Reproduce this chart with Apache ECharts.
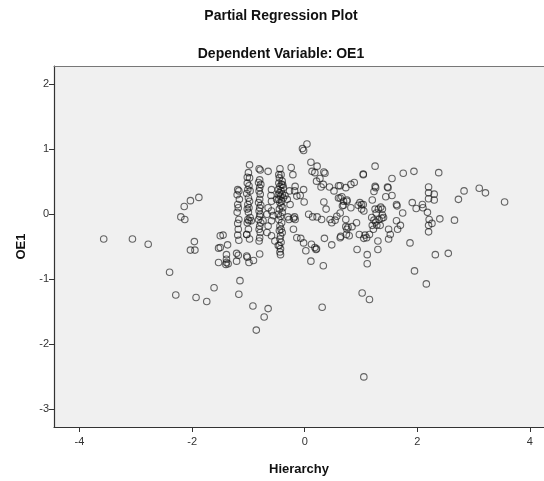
<!DOCTYPE html>
<html>
<head>
<meta charset="utf-8">
<script src="https://cdn.jsdelivr.net/npm/echarts@6/dist/echarts.min.js"></script>
<style>
  html, body { margin: 0; padding: 0; background: #ffffff; }
  #chart { width: 544px; height: 481px; }
</style>
</head>
<body>
<div id="chart"></div>
<script>
// Partial regression residuals: [Hierarchy | others, OE1 | others]
var leftTail = [
  [-3.57,-0.38],[-3.06,-0.38],[-2.78,-0.46],[-2.40,-0.89],[-2.29,-1.24],[-1.93,-1.28],[-1.74,-1.34],[-1.61,-1.13],
  [-1.88,0.26],[-2.03,0.21],[-2.14,0.12],[-2.20,-0.04],[-2.13,-0.08],[-1.96,-0.42],[-2.03,-0.55],[-1.95,-0.55],
  [-1.53,-0.52],[-1.53,-0.74],[-1.50,-0.33],[-1.45,-0.32],[-1.50,-0.51],[-1.37,-0.47],
  [-1.39,-0.74],[-1.39,-0.69],[-1.40,-0.77],[-1.36,-0.76],[-1.39,-0.62],
  [-1.15,-1.02],[-1.17,-1.23],[-0.92,-1.41],[-0.65,-1.45],[-0.72,-1.58],[-0.86,-1.78]
];
var lowerMiddle = [
  [-1.21,-0.72],[-1.21,-0.60],[-1.18,-0.63],[-1.02,-0.66],[-0.99,-0.74],[-0.91,-0.71],[-0.80,-0.61],[-1.03,-0.64],[-0.43,-0.62],
  [0.02,-0.56],[0.20,-0.54],[0.11,-0.72],[0.33,-0.79],[0.31,-1.43]
];
var bandNear120 = [
  [-1.19,0.38],[-1.17,0.36],[-1.20,0.30],[-1.16,0.23],[-1.19,0.15],[-1.18,0.10],[-1.20,0.03],[-1.17,-0.08],
  [-1.19,-0.14],[-1.18,-0.23],[-1.19,-0.32],[-1.17,-0.40],[-1.03,-0.31],[-0.95,-0.10]
];
var bandNear100 = [
  [-1.00,0.64],[-0.98,0.56],[-1.02,0.48],[-0.99,0.44],[-1.01,0.38],[-0.97,0.36],[-1.03,0.32],[-1.00,0.25],
  [-0.98,0.20],[-1.01,0.15],[-0.99,0.10],[-1.02,0.08],[-1.00,0.03],[-0.97,-0.05],[-1.01,-0.08],[-0.99,-0.10],
  [-1.02,-0.13],[-1.00,-0.23],[-1.03,-0.31],[-0.98,-0.38]
];
var bandNear080 = [
  [-0.81,0.70],[-0.79,0.68],[-0.80,0.53],[-0.82,0.49],[-0.78,0.46],[-0.80,0.41],[-0.81,0.36],[-0.79,0.31],
  [-0.80,0.23],[-0.82,0.18],[-0.78,0.14],[-0.80,0.10],[-0.81,0.05],[-0.79,0.00],[-0.80,-0.03],[-0.82,-0.08],
  [-0.78,-0.13],[-0.80,-0.18],[-0.81,-0.23],[-0.79,-0.28],[-0.80,-0.36],[-0.81,-0.41],[-0.65,0.66]
];
var bandNear043 = [
  [-0.44,0.70],[-0.42,0.61],[-0.45,0.56],[-0.40,0.51],[-0.46,0.48],[-0.41,0.46],[-0.44,0.43],[-0.38,0.41],
  [-0.47,0.38],[-0.42,0.36],[-0.45,0.33],[-0.40,0.31],[-0.43,0.28],[-0.38,0.25],[-0.46,0.23],[-0.41,0.20],
  [-0.44,0.18],[-0.42,0.13],[-0.45,0.08],[-0.40,0.03],[-0.43,-0.03],[-0.46,-0.08],[-0.41,-0.13],[-0.44,-0.18],
  [-0.42,-0.23],[-0.45,-0.25],[-0.40,-0.28],[-0.43,-0.33],[-0.44,-0.38],[-0.42,-0.43],[-0.45,-0.48],[-0.43,-0.53],
  [-0.44,-0.58],[-0.46,0.61],[-0.39,0.45],[-0.47,0.30],[-0.39,0.10]
];
var centreCloud = [
  [0.04,1.08],[-0.04,1.01],[-0.02,0.98],[-0.98,0.76],[-1.02,0.57],[-0.24,0.72],[-0.21,0.61],[0.11,0.80],
  [0.22,0.74],[0.13,0.66],[0.18,0.64],[0.34,0.65],[0.36,0.63],[0.27,0.55],[0.21,0.51],[0.33,0.46],[0.29,0.42],
  [0.44,0.42],[0.60,0.44],[0.52,0.36],[0.60,0.25],[0.66,0.27],[0.75,0.22],[0.34,0.19],[0.38,0.08],[0.69,0.14],
  [0.63,0.02],[0.73,-0.08],[0.77,-0.20],[0.74,-0.31],[0.63,-0.36],[0.48,-0.47],[0.35,-0.37],
  [0.21,-0.53],[0.12,-0.46],[0.18,-0.51],[-0.02,-0.44],[-0.07,-0.37],[-0.14,-0.36],[0.07,0.00],[0.14,-0.04],
  [0.22,-0.04],[0.30,-0.08],[0.45,-0.08],[0.54,-0.09],[0.57,-0.03],[0.48,-0.13],
  [-0.18,-0.04],[-0.17,-0.08],[-0.20,-0.06],[-0.20,-0.23],[-0.02,0.38],[-0.08,0.29],[-0.14,0.28],[-0.01,0.19],
  [-0.17,0.43],[-0.18,0.36],[-0.27,0.36],[-0.35,0.29],[-0.31,0.23],[-0.26,0.15],[-0.59,0.38],[-0.60,0.29],
  [-0.50,0.23],[-0.59,0.20],[-0.65,0.10],[-0.59,0.05],[-0.67,0.00],[-0.56,-0.02],[-0.47,0.00],[-0.59,-0.10],
  [-0.65,-0.18],[-0.74,-0.10],[-0.67,-0.28],[-0.59,-0.33],[-0.53,-0.41],[-0.47,-0.48],[-0.30,-0.04],[-0.28,-0.08]
];
var rightSide = [
  [1.25,0.74],[1.04,0.61],[1.04,0.62],[1.55,0.55],[1.75,0.63],[1.94,0.66],[2.38,0.64],[2.83,0.36],[3.10,0.40],
  [3.21,0.33],[3.55,0.19],[2.73,0.23],[2.66,-0.09],[2.40,-0.07],
  [2.20,0.42],[2.20,0.33],[2.30,0.31],[2.30,0.22],[2.20,0.24],[2.09,0.15],[2.10,0.10],[1.98,0.09],[1.91,0.18],
  [2.18,0.03],[2.21,-0.08],[2.26,-0.14],[2.20,-0.17],[2.20,-0.27],[1.74,0.02],[1.87,-0.44],[2.32,-0.62],
  [2.55,-0.60],[1.95,-0.87],[2.16,-1.07],
  [1.02,-1.21],[1.15,-1.31],[0.93,-0.54],[1.11,-0.62],[1.11,-0.76],[1.30,-0.54],[1.30,-0.41],[1.49,-0.38],
  [1.52,-0.31],[1.49,-0.23],[1.65,-0.23],[1.70,-0.17],[1.63,-0.10],[1.63,0.15],[1.64,0.13],
  [1.47,0.42],[1.48,0.41],[1.55,0.29],[1.44,0.27],[1.25,0.43],[1.26,0.41],[1.23,0.35],[1.20,0.22],[1.35,0.11],
  [1.31,0.08],[1.38,0.08],[1.25,0.08],[1.27,0.02],
  [1.19,-0.05],[1.23,-0.09],[1.26,-0.12],[1.32,-0.08],[1.37,-0.06],[1.20,-0.17],[1.28,-0.17],[1.34,-0.17],
  [1.22,-0.23],[1.15,-0.31],[1.07,-0.32],[1.10,-0.36],[1.05,-0.37],[0.97,-0.31],[0.92,-0.13],[0.84,-0.19],
  [0.75,-0.23],[0.79,-0.33],[0.64,-0.34],[0.73,-0.19],
  [0.98,0.18],[1.01,0.15],[1.04,0.15],[0.95,0.14],[1.01,0.08],[1.05,0.05],[0.82,0.10],[0.69,0.20],[0.75,0.20],
  [0.67,0.13],[0.63,0.25],[0.73,0.41],[0.82,0.46],[0.88,0.49],[0.63,0.44],[1.38,-0.01],[1.40,-0.05],[1.05,-2.50]
];

var xTicks = [-4, -2, 0, 2, 4];
var yTicks = [-3, -2, -1, 0, 1, 2];

var titleText = 'Partial Regression Plot';
var subtitleText = 'Dependent Variable: OE1';
var xName = 'Hierarchy';
var yName = 'OE1';

var points = [].concat(leftTail, lowerMiddle, bandNear120, bandNear100, bandNear080,
                       bandNear043, centreCloud, rightSide);

var FONT = '"Liberation Sans", Arial, sans-serif';
var chart = echarts.init(document.getElementById('chart'), null, { renderer: 'canvas' });

// The frame runs past the right edge of the page, so its right side is never drawn:
// the top edge comes from a bare second x axis.
var X_MIN = -4.453, X_MAX = 4.25;

chart.setOption({
  animation: false,
  backgroundColor: '#ffffff',
  graphic: [
    { type: 'text', x: 281, y: 16,
      style: { text: titleText, font: 'bold 14px ' + FONT, fill: '#111', textAlign: 'center', textVerticalAlign: 'middle' } },
    { type: 'text', x: 281, y: 54,
      style: { text: subtitleText, font: 'bold 14px ' + FONT, fill: '#111', textAlign: 'center', textVerticalAlign: 'middle' } }
  ],
  grid: {
    left: 54, top: 66, right: 0, bottom: 52,
    show: true, backgroundColor: '#F0F0F0', borderWidth: 0
  },
  xAxis: [{
    type: 'value', min: X_MIN, max: X_MAX,
    name: xName, nameLocation: 'middle', nameGap: 36,
    nameTextStyle: { fontFamily: FONT, fontSize: 13, fontWeight: 'bold', color: '#111' },
    splitLine: { show: false },
    axisLine: { show: true, onZero: false, lineStyle: { color: '#333', width: 1.2 } },
    axisTick: { show: true, customValues: xTicks, length: 5, lineStyle: { color: '#333' } },
    axisLabel: { customValues: xTicks, fontFamily: FONT, fontSize: 11, color: '#333', margin: 9 }
  }, {
    type: 'value', min: X_MIN, max: X_MAX, position: 'top',
    splitLine: { show: false },
    axisLine: { show: true, onZero: false, lineStyle: { color: '#777', width: 1 } },
    axisTick: { show: false },
    axisLabel: { show: false }
  }],
  yAxis: {
    type: 'value', min: -3.27, max: 2.28,
    name: yName, nameLocation: 'middle', nameGap: 25, nameRotate: 90,
    nameTextStyle: { fontFamily: FONT, fontSize: 13, fontWeight: 'bold', color: '#111' },
    splitLine: { show: false },
    axisLine: { show: true, onZero: false, lineStyle: { color: '#333', width: 1.2 } },
    axisTick: { show: true, customValues: yTicks, length: 5, lineStyle: { color: '#333' } },
    axisLabel: { customValues: yTicks, fontFamily: FONT, fontSize: 11, color: '#333', margin: 5 }
  },
  series: [{
    type: 'scatter',
    xAxisIndex: 0,
    data: points,
    symbol: 'circle',
    symbolSize: 6.5,
    itemStyle: { color: 'rgba(0,0,0,0)', borderColor: 'rgba(20,20,20,0.8)', borderWidth: 1.1 }
  }]
});
</script>
</body>
</html>
